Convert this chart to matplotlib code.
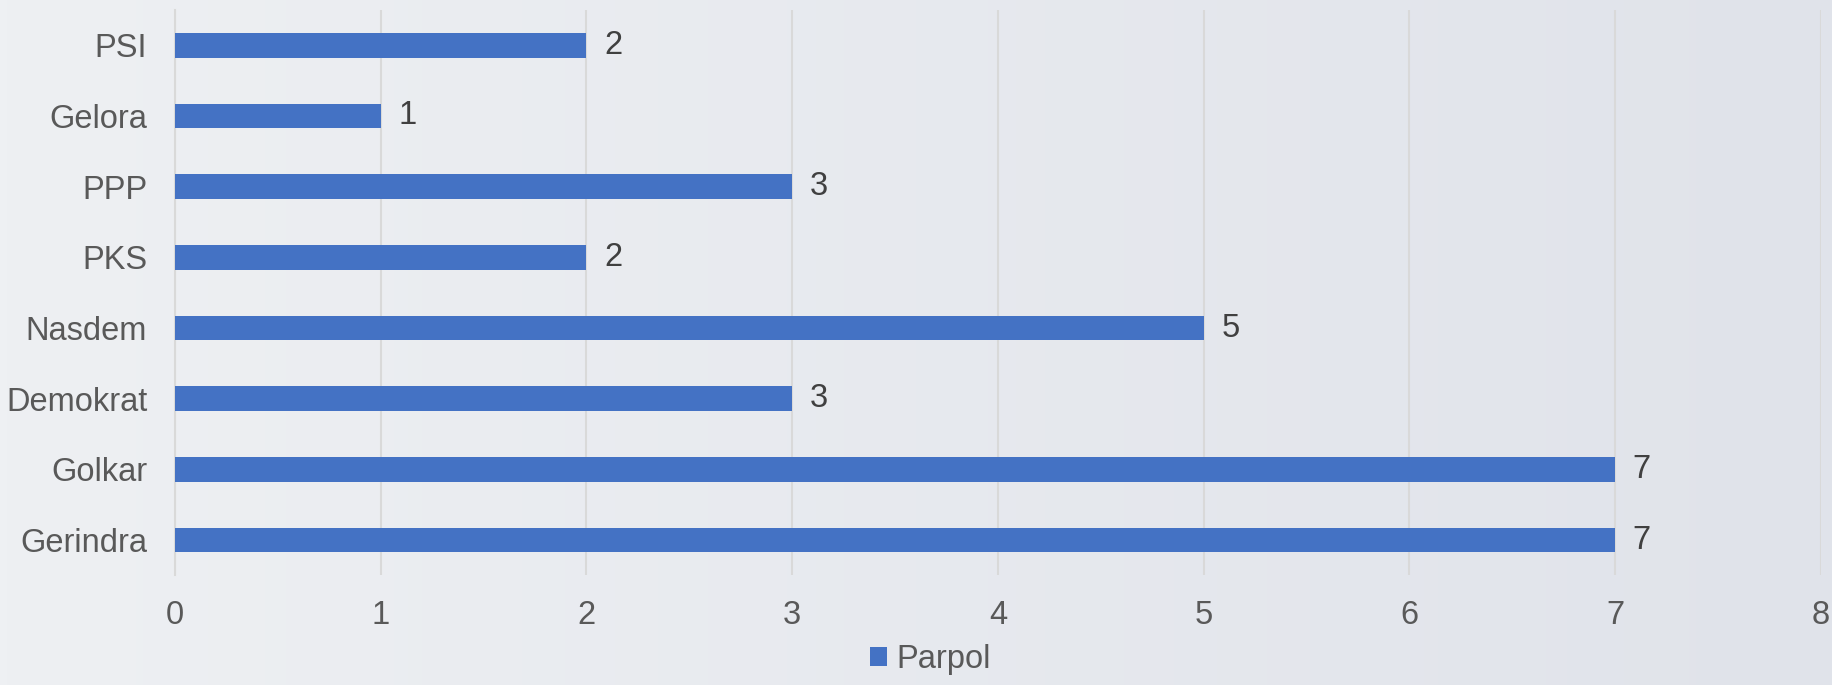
"""
Horizontal bar chart of Parpol counts per party.
"""

import numpy as np
from matplotlib import pyplot as plt

parties = ["Gerindra", "Golkar", "Demokrat", "Nasdem", "PKS", "PPP", "Gelora", "PSI"]
counts = [7, 7, 3, 5, 2, 3, 1, 2]
series_name = "Parpol"
x_ticks = [0, 1, 2, 3, 4, 5, 6, 7, 8]

BAR_COLOR = "#4472C4"
TICK_COLOR = "#595959"
LABEL_COLOR = "#404040"
GRID_COLOR = "#d9d9d9"


def main():
    plt.rcParams["font.family"] = ["Liberation Sans", "DejaVu Sans"]

    fig = plt.figure(figsize=(18.32, 6.85), dpi=100)

    # soft background gradient, light on the left, a bit darker on the right
    bg = fig.add_axes([0, 0, 1, 1], zorder=-10)
    grad = np.linspace(0, 1, 256).reshape(1, -1)
    c_left = np.array([0xee, 0xf0, 0xf3]) / 255
    c_right = np.array([0xe0, 0xe3, 0xea]) / 255
    img = c_left + (c_right - c_left) * grad[..., None]
    bg.imshow(img, aspect="auto", extent=[0, 1, 0, 1])
    bg.axis("off")

    ax = fig.add_axes([0.0955, 0.16, 0.8985, 0.8255])
    ax.patch.set_alpha(0)

    y = np.arange(len(parties))
    bars = ax.barh(y, counts, height=0.35, color=BAR_COLOR, zorder=3,
                   label=series_name)

    for rect, val in zip(bars, counts):
        ax.text(rect.get_width() + 0.085, rect.get_y() + rect.get_height() / 2,
                str(val), va="center", ha="left", fontsize=23.5,
                color=LABEL_COLOR)

    ax.set_ylim(-0.5, len(parties) - 0.5)
    ax.set_xlim(0, 8)
    ax.set_yticks(y)
    ax.set_yticklabels(parties)
    ax.set_xticks(x_ticks)

    ax.tick_params(axis="both", length=0, labelsize=23.5, labelcolor=TICK_COLOR)
    ax.tick_params(axis="y", pad=20)
    ax.tick_params(axis="x", pad=18)

    ax.grid(axis="x", color=GRID_COLOR, linewidth=1.5, zorder=0)
    for side in ["top", "right", "bottom"]:
        ax.spines[side].set_visible(False)
    ax.spines["left"].set_color(GRID_COLOR)
    ax.spines["left"].set_linewidth(1.5)

    fig.legend(loc="lower center", bbox_to_anchor=(0.508, -0.028), frameon=False,
               fontsize=23.5, labelcolor=TICK_COLOR, handlelength=0.5,
               handleheight=0.5, handletextpad=0.3)

    fig.savefig("out.png", dpi=100)


if __name__ == "__main__":
    main()
